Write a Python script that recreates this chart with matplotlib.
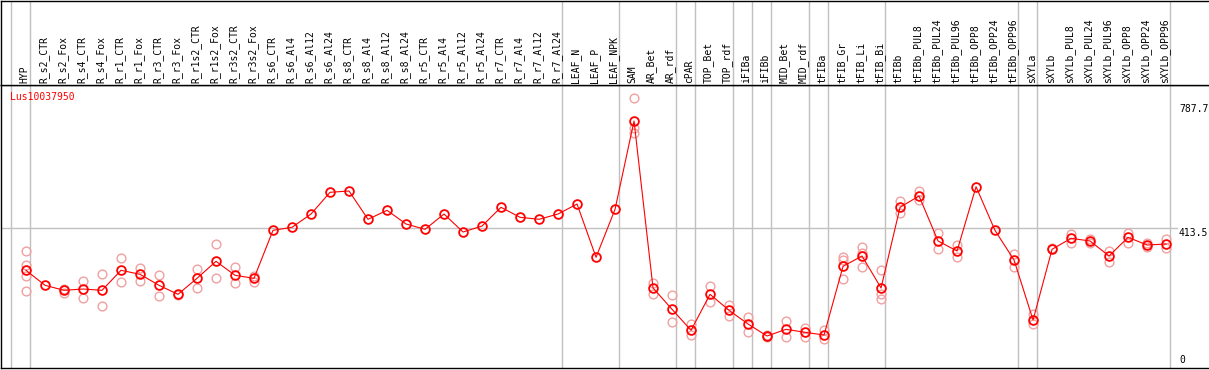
"""Expression profile of one gene across sample groups."""

import numpy as np
import matplotlib
matplotlib.use("Agg")
import matplotlib.pyplot as plt
import matplotlib.transforms as mtransforms

gene = "Lus10037950"

samples = [
    "HYP",
    "R_s2_CTR", "R_s2_Fox", "R_s4_CTR", "R_s4_Fox", "R_r1_CTR", "R_r1_Fox",
    "R_r3_CTR", "R_r3_Fox", "R_r1s2_CTR", "R_r1s2_Fox", "R_r3s2_CTR", "R_r3s2_Fox",
    "R_s6_CTR", "R_s6_Al4", "R_s6_Al12", "R_s6_Al24",
    "R_s8_CTR", "R_s8_Al4", "R_s8_Al12", "R_s8_Al24",
    "R_r5_CTR", "R_r5_Al4", "R_r5_Al12", "R_r5_Al24",
    "R_r7_CTR", "R_r7_Al4", "R_r7_Al12", "R_r7_Al24",
    "LEAF_N", "LEAF_P", "LEAF_NPK",
    "SAM", "AR_Bet", "AR_rdf",
    "cPAR",
    "TOP_Bet", "TOP_rdf",
    "iFIBa",
    "iFIBb",
    "MID_Bet", "MID_rdf",
    "tFIBa",
    "tFIB_Gr", "tFIB_Li", "tFIB_Bi",
    "tFIBb", "tFIBb_PUL8", "tFIBb_PUL24", "tFIBb_PUL96",
    "tFIBb_OPP8", "tFIBb_OPP24", "tFIBb_OPP96",
    "sXYLa",
    "sXYLb", "sXYLb_PUL8", "sXYLb_PUL24", "sXYLb_PUL96",
    "sXYLb_OPP8", "sXYLb_OPP24", "sXYLb_OPP96",
]

# samples per group (gray separators between groups)
group_sizes = [1, 28, 3, 3, 1, 2, 1, 1, 2, 1, 3, 7, 1, 7]

means = [
    286.7, 241.4, 226.3, 230.2, 226.3, 286.7, 274.6, 241.4, 214.2, 262.5,
    313.8, 271.6, 262.5, 407.4, 416.4, 456.5, 522.0, 526.0, 440.6, 467.7,
    426.4, 410.4, 456.5, 402.2, 420.3, 476.8, 446.6, 440.6, 456.5, 486.7,
    325.9, 470.7, 737.2, 233.3, 169.0, 105.6, 214.2, 166.0, 124.6, 88.4,
    108.6, 99.6, 91.4, 298.7, 329.8, 233.3, 476.8, 510.9, 375.1, 344.9,
    538.9, 406.8, 317.7, 136.7, 350.0, 383.2, 375.1, 329.8, 386.2, 363.0,
    366.0,
]

replicates = [
    [344.9, 302.7, 269.5, 224.2], [], [231.1, 217.3], [254.4, 202.2],
    [274.6, 178.9], [323.8, 250.5], [293.6, 253.5], [271.6, 209.1],
    [212.1], [290.6, 233.3], [365.1, 264.3], [296.6, 249.2], [269.5, 252.3],
    [], [], [], [], [], [], [], [], [], [], [], [], [], [], [], [], [], [], [],
    [805.7, 715.1, 700.1], [248.3, 215.1], [212.1, 129.8], [123.7, 90.5],
    [239.3, 190.1], [182.9, 149.7], [145.7, 101.4], [90.5, 84.5],
    [133.7, 84.5], [112.6, 86.3], [106.5, 79.4],
    [327.7, 317.7, 259.5], [356.1, 339.8, 295.7], [287.6, 215.1, 200.1],
    [494.9, 460.5], [526.9, 498.8], [400.1, 351.8], [363.0, 325.9],
    [], [], [335.2, 295.7], [154.8, 124.0], [353.0],
    [397.7, 368.1], [380.2, 369.0], [344.9, 312.6], [399.2, 370.5],
    [369.9, 357.9], [380.2, 353.0],
]

right_labels = [787.7, 413.5, 0]
grid_value = 413.5

W, H = 1209, 370
fig = plt.figure(figsize=(W / 100, H / 100), dpi=100)

x0, x1 = -1.316, 62.26
ax = fig.add_axes([1 / W, 2 / H, (W - 1) / W, 283 / H])
hax = fig.add_axes([1 / W, 285 / H, (W - 1) / W, 84.5 / H])
for a in (ax, hax):
    a.set_xlim(x0, x1)
    a.set_xticks([]); a.set_yticks([])
    a.spines["right"].set_visible(False)
    for s in ("left", "top", "bottom"):
        a.spines[s].set_color("black")
        a.spines[s].set_linewidth(1.0)
ax.set_ylim(-8.1, 845.8)
hax.set_ylim(0, 1)

# group separators
bounds = np.concatenate([[-1], np.cumsum(group_sizes) - 1]) + 0.2
for b in bounds:
    ax.axvline(b, color="#c0c0c0", lw=1.0, zorder=0)
    hax.axvline(b, color="#c0c0c0", lw=1.0, zorder=0)

ax.axhline(grid_value, xmin=0, xmax=0.9735, color="#c0c0c0", lw=1.0, zorder=0)

x = np.arange(len(samples))
rx = [i for i, r in enumerate(replicates) for _ in r]
ry = [v for r in replicates for v in r]
ax.plot(rx, ry, "o", ms=6.3, mfc="none", mec="#f0a0a0", mew=1.0, zorder=2)
ax.plot(x, means, "-", color="red", lw=0.8, zorder=3)
ax.plot(x, means, "o", ms=6.3, mfc="none", mec="red", mew=1.3, zorder=4)

font = dict(family="DejaVu Sans Mono", fontsize=7)
htrans = mtransforms.blended_transform_factory(hax.transData, hax.transAxes)
for i, name in enumerate(samples):
    hax.text(i - 0.08, 0.025, name, rotation=90, ha="center", va="bottom",
             transform=htrans, **font)

ax.text(-0.84, 809.6, gene, color="red", ha="left", va="center", **font)
for v in right_labels:
    ax.text(60.68, v, f"{v:g}" if v == 0 else f"{v}",
            ha="left", va="bottom" if v == 0 else "top", **font)

fig.savefig("out.png", dpi=100)
